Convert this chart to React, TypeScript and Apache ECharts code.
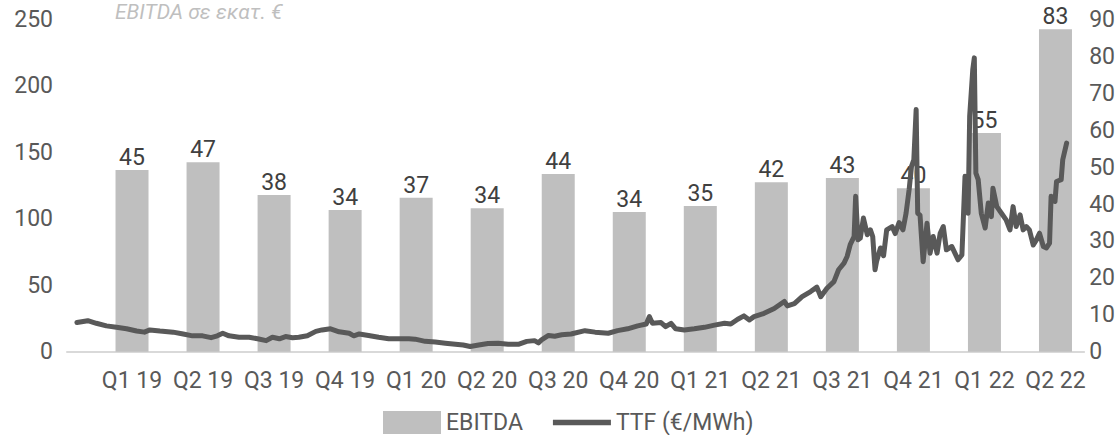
import React, { useEffect, useRef } from "react";
import * as echarts from "echarts";

// Quarterly EBITDA bars (height read on the left axis) and their printed labels
const categories = ["Q1 19", "Q2 19", "Q3 19", "Q4 19", "Q1 20", "Q2 20", "Q3 20", "Q4 20", "Q1 21", "Q2 21", "Q3 21", "Q4 21", "Q1 22", "Q2 22"];
const ebitdaBars = [136.7, 142.5, 117.9, 106.6, 115.9, 107.9, 133.7, 105.1, 109.6, 127.5, 130.7, 123, 164.6, 242.6];
const ebitdaLabels = [45, 47, 38, 34, 37, 34, 44, 34, 35, 42, 43, 40, 55, 83];

// TTF series: day number counted from 2018-12-31, value on right axis
const ttfDays = [1, 15, 26, 39, 52, 65, 78, 88, 95, 108, 125, 138, 150, 163, 174, 182, 189, 197, 210, 223, 234, 245, 253, 262, 270, 279, 287, 298, 309, 317, 328, 339, 352, 358, 365, 377, 390, 403, 416, 429, 437, 450, 463, 476, 489, 499, 508, 519, 531, 544, 557, 570, 581, 591, 596, 600, 609, 617, 626, 638, 656, 669, 686, 698, 711, 724, 735, 739, 743, 754, 760, 767, 773, 784, 797, 810, 823, 836, 844, 853, 861, 868, 874, 887, 900, 913, 917, 926, 936, 947, 955, 960, 968, 977, 983, 990, 994, 998, 1003, 1005, 1008, 1011, 1015, 1020, 1024, 1027, 1030, 1032, 1037, 1041, 1045, 1052, 1056, 1061, 1066, 1070, 1074, 1077, 1080, 1083, 1085, 1088, 1092, 1097, 1101, 1105, 1110, 1114, 1118, 1122, 1129, 1133, 1137, 1142, 1146, 1150, 1152, 1156, 1158, 1160, 1163, 1167, 1172, 1176, 1180, 1182, 1187, 1193, 1199, 1204, 1208, 1212, 1217, 1221, 1225, 1229, 1234, 1238, 1242, 1247, 1251, 1255, 1257, 1262, 1264, 1270, 1272, 1277];
const ttfValues = [7.9, 8.4, 7.7, 7.0, 6.6, 6.2, 5.6, 5.3, 5.9, 5.6, 5.3, 4.8, 4.3, 4.3, 3.8, 4.3, 5.0, 4.3, 3.9, 3.9, 3.5, 3.0, 3.9, 3.5, 4.1, 3.8, 3.9, 4.3, 5.5, 5.9, 6.2, 5.4, 5.0, 4.3, 4.8, 4.4, 3.9, 3.5, 3.5, 3.5, 3.4, 2.8, 2.6, 2.3, 2.0, 1.8, 1.4, 1.8, 2.2, 2.3, 2.0, 2.0, 2.8, 3.0, 2.4, 3.2, 4.4, 4.2, 4.6, 4.8, 5.7, 5.3, 5.0, 5.7, 6.2, 7.0, 7.5, 9.5, 7.7, 7.9, 6.8, 7.7, 6.2, 5.9, 6.2, 6.6, 7.2, 7.7, 7.5, 8.8, 9.7, 8.6, 9.5, 10.4, 11.7, 13.6, 12.4, 13.0, 14.9, 16.3, 17.5, 14.9, 17.2, 19.0, 22.2, 24.0, 25.8, 29.0, 31.2, 42.1, 30.3, 30.8, 36.2, 31.7, 33.0, 31.2, 22.2, 24.5, 28.1, 26.0, 33.0, 33.9, 32.0, 35.0, 33.0, 37.5, 44.0, 50.2, 52.0, 65.6, 37.5, 37.0, 24.4, 34.8, 26.7, 31.2, 26.7, 32.1, 33.9, 27.6, 28.5, 26.7, 24.9, 26.2, 47.5, 37.5, 63.8, 76.4, 79.6, 48.4, 46.6, 37.5, 33.5, 40.3, 36.6, 44.3, 39.3, 37.5, 35.7, 33.0, 39.3, 33.9, 37.1, 33.0, 33.9, 33.0, 28.9, 30.3, 32.1, 28.5, 28.1, 29.4, 42.1, 40.7, 46.1, 46.6, 52.0, 56.5];

const leftAxisMax = 250;
const leftAxisStep = 50;
const rightAxisMax = 90;
const rightAxisStep = 10;
const dayStartOffset = -11.8;
const dayEndOffset = 1299.6;

const DAY = 86400000;
const BASE = Date.UTC(2018, 11, 31);
const FONT = "Roboto";

export default function App() {
  const ref = useRef<HTMLDivElement>(null);

  useEffect(() => {
    document.body.style.margin = "0";
    if (!ref.current) return;
    const chart = echarts.init(ref.current, undefined, { renderer: "svg" });

    const lineData = ttfDays.map((d, i) => [BASE + d * DAY, ttfValues[i]]);

    chart.setOption({
      animation: false,
      backgroundColor: "#ffffff",
      textStyle: { fontFamily: FONT },
      grid: [
        { left: 67, right: 30, top: 19.5, bottom: 83.3 },
        { left: 96.5, right: 27, top: 19.5, bottom: 83.3 },
      ],
      xAxis: [
        {
          type: "time",
          gridIndex: 0,
          min: BASE + dayStartOffset * DAY,
          max: BASE + dayEndOffset * DAY,
          axisLine: { show: true, lineStyle: { color: "#d9d9d9", width: 2 } },
          axisTick: { show: false },
          axisLabel: { show: false },
          splitLine: { show: false },
        },
        {
          type: "category",
          gridIndex: 1,
          data: categories,
          boundaryGap: true,
          axisLine: { show: false },
          axisTick: { show: false },
          splitLine: { show: false },
          axisLabel: { color: "#595959", fontSize: 23, fontFamily: FONT, margin: 17, interval: 0 },
        },
      ],
      yAxis: [
        {
          type: "value",
          gridIndex: 0,
          position: "left",
          min: 0,
          max: leftAxisMax,
          interval: leftAxisStep,
          axisLine: { show: false },
          axisTick: { show: false },
          splitLine: { show: false },
          axisLabel: { color: "#595959", fontSize: 23, fontFamily: FONT, margin: 14 },
        },
        {
          type: "value",
          gridIndex: 0,
          position: "right",
          min: 0,
          max: rightAxisMax,
          interval: rightAxisStep,
          axisLine: { show: false },
          axisTick: { show: false },
          splitLine: { show: false },
          axisLabel: { color: "#595959", fontSize: 23, fontFamily: FONT, margin: 5 },
        },
        {
          type: "value",
          gridIndex: 1,
          min: 0,
          max: leftAxisMax,
          show: false,
          splitLine: { show: false },
        },
      ],
      legend: {
        left: 383,
        top: 411,
        padding: 0,
        itemWidth: 58,
        itemHeight: 23,
        itemGap: 30,
        textStyle: { color: "#595959", fontSize: 23, fontFamily: FONT, padding: [0, 0, 10, 0] },
        data: [
          { name: "EBITDA", icon: "rect" },
          { name: "TTF (€/MWh)", icon: "path://M0,0H54V5H0Z" },
        ],
      },
      graphic: [
        {
          type: "text",
          left: 115,
          top: 1,
          style: {
            text: "EBITDA σε εκατ. €",
            fill: "#bfbfbf",
            font: `italic 21px ${FONT}`,
          },
        },
      ],
      series: [
        {
          name: "EBITDA",
          type: "bar",
          xAxisIndex: 1,
          yAxisIndex: 2,
          data: ebitdaBars,
          barWidth: 33,
          z: 2,
          itemStyle: { color: "#bfbfbf" },
          label: {
            show: true,
            position: "top",
            distance: 1,
            color: "#404040",
            fontSize: 23,
            fontFamily: FONT,
            formatter: (p: any) => String(ebitdaLabels[p.dataIndex]),
          },
        },
        {
          name: "TTF (€/MWh)",
          type: "line",
          xAxisIndex: 0,
          yAxisIndex: 1,
          data: lineData,
          showSymbol: false,
          symbol: "none",
          z: 3,
          itemStyle: { color: "#595959" },
          lineStyle: { color: "#595959", width: 5, join: "round", cap: "round" },
        },
      ],
    });

    return () => chart.dispose();
  }, []);

  return <div ref={ref} style={{ width: 1118, height: 435 }} />;
}
